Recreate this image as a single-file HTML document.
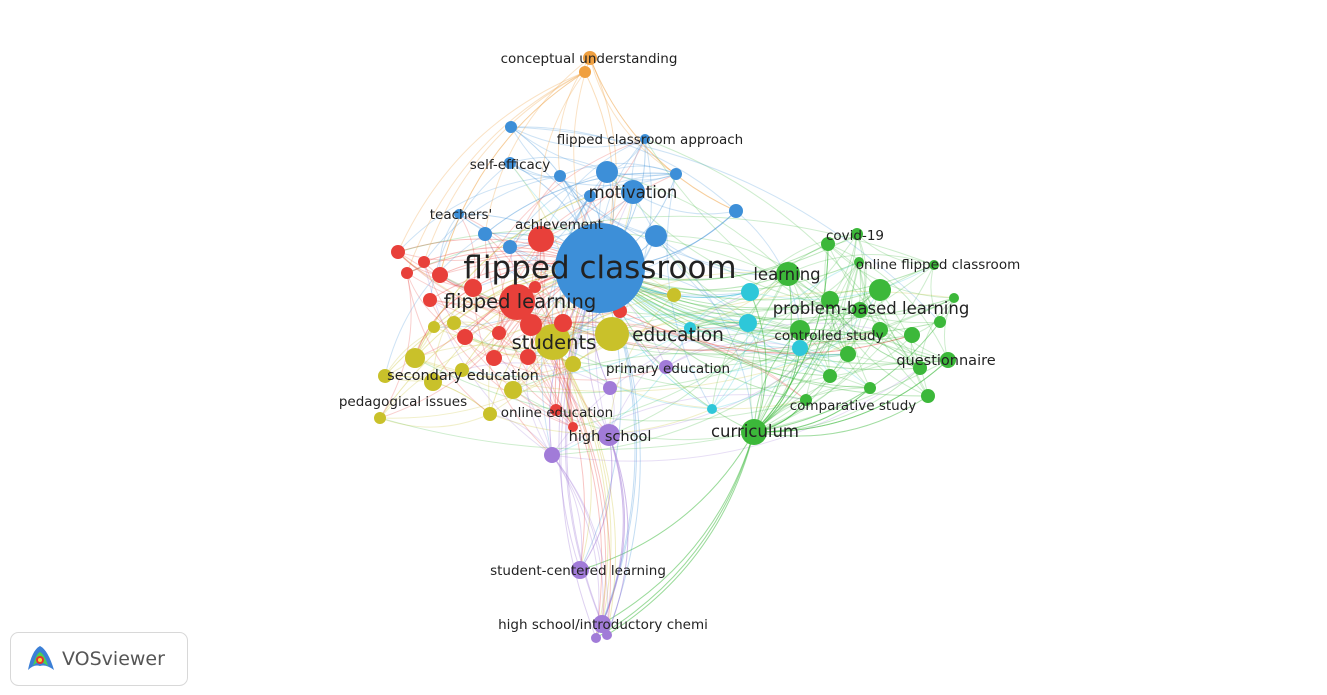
<!DOCTYPE html>
<html><head><meta charset="utf-8"><style>
html,body{margin:0;padding:0;background:#fff;width:1327px;height:695px;overflow:hidden}
svg{display:block}
text{font-family:"DejaVu Sans","Liberation Sans",sans-serif;fill:#222}
</style></head><body>
<svg id="s" width="1327" height="695" viewBox="0 0 1327 695">
<g id="edges" fill="none" stroke-width="1"></g>
<g id="nodes"></g>
<g id="labels">
<text x="589" y="63" font-size="13.5" text-anchor="middle">conceptual understanding</text>
<text x="650" y="144" font-size="13.5" text-anchor="middle">flipped classroom approach</text>
<text x="510" y="169" font-size="13.5" text-anchor="middle">self-efficacy</text>
<text x="633" y="198" font-size="16.5" text-anchor="middle">motivation</text>
<text x="461" y="219" font-size="13.5" text-anchor="middle">teachers'</text>
<text x="559" y="229" font-size="13.5" text-anchor="middle">achievement</text>
<text x="855" y="240" font-size="13.5" text-anchor="middle">covid-19</text>
<text x="600" y="278" font-size="31" text-anchor="middle">flipped classroom</text>
<text x="938" y="269" font-size="13.5" text-anchor="middle">online flipped classroom</text>
<text x="787" y="280" font-size="16.5" text-anchor="middle">learning</text>
<text x="520" y="308" font-size="19.5" text-anchor="middle">flipped learning</text>
<text x="871" y="314" font-size="16.5" text-anchor="middle">problem-based learning</text>
<text x="678" y="341" font-size="18.5" text-anchor="middle">education</text>
<text x="829" y="340" font-size="13.5" text-anchor="middle">controlled study</text>
<text x="554" y="349" font-size="19.5" text-anchor="middle">students</text>
<text x="946" y="365" font-size="14.5" text-anchor="middle">questionnaire</text>
<text x="668" y="373" font-size="13.5" text-anchor="middle">primary education</text>
<text x="463" y="380" font-size="14.5" text-anchor="middle">secondary education</text>
<text x="403" y="406" font-size="13.5" text-anchor="middle">pedagogical issues</text>
<text x="853" y="410" font-size="13.5" text-anchor="middle">comparative study</text>
<text x="557" y="417" font-size="13.5" text-anchor="middle">online education</text>
<text x="755" y="437" font-size="16.5" text-anchor="middle">curriculum</text>
<text x="610" y="441" font-size="14.5" text-anchor="middle">high school</text>
<text x="578" y="575" font-size="13.5" text-anchor="middle">student-centered learning</text>
<text x="603" y="629" font-size="13.5" text-anchor="middle">high school/introductory chemi</text>
</g>
<rect x="10.5" y="632.5" width="177" height="53" rx="8" fill="#fff" stroke="#d8d8d8"/>
<g transform="translate(26,644)">
<path d="M2 26 Q6 6 14 2 Q22 6 28 26 Q20 20 14 22 Q8 20 2 26Z" fill="#3b7fd6"/>
<path d="M7 22 Q10 10 14 8 Q19 11 22 22 Q17 18 14 19 Q10 18 7 22Z" fill="#4ed04e"/>
<circle cx="14" cy="16" r="4" fill="#e83030"/><circle cx="14" cy="16" r="2" fill="#f2e030"/>
</g>
<text x="62" y="665" font-size="19" style="fill:#555">VOSviewer</text>
</svg>
<script>
var C={b:'#3d8fd8',r:'#e8403a',y:'#c9c12a',c:'#2ec7d9',g:'#3cb83a',p:'#a17bd8',o:'#f0a040'};
var N=[
[600,268,45,'b'],[633,192,12,'b'],[607,172,11,'b'],[656,236,11,'b'],[511,127,6,'b'],[645,139,5,'b'],[510,163,6,'b'],[560,176,6,'b'],[676,174,6,'b'],[736,211,7,'b'],[459,214,5,'b'],[485,234,7,'b'],[510,247,7,'b'],[590,196,6,'b'],
[517,302,18,'r'],[541,239,13,'r'],[398,252,7,'r'],[424,262,6,'r'],[407,273,6,'r'],[440,275,8,'r'],[473,288,9,'r'],[430,300,7,'r'],[465,337,8,'r'],[499,333,7,'r'],[531,325,11,'r'],[494,358,8,'r'],[528,357,8,'r'],[563,323,9,'r'],[620,311,7,'r'],[556,410,6,'r'],[573,427,5,'r'],[535,287,6,'r'],
[553,342,18,'y'],[612,334,17,'y'],[674,295,7,'y'],[454,323,7,'y'],[434,327,6,'y'],[415,358,10,'y'],[385,376,7,'y'],[433,382,9,'y'],[513,390,9,'y'],[573,364,8,'y'],[490,414,7,'y'],[380,418,6,'y'],[462,370,7,'y'],
[750,292,9,'c'],[748,323,9,'c'],[800,348,8,'c'],[712,409,5,'c'],[690,328,6,'c'],
[788,274,12,'g'],[754,432,13,'g'],[828,244,7,'g'],[857,234,6,'g'],[880,290,11,'g'],[859,262,5,'g'],[934,265,5,'g'],[954,298,5,'g'],[940,322,6,'g'],[912,335,8,'g'],[948,360,8,'g'],[920,368,7,'g'],[928,396,7,'g'],[848,354,8,'g'],[830,376,7,'g'],[806,400,6,'g'],[860,310,8,'g'],[830,300,9,'g'],[800,330,10,'g'],[880,330,8,'g'],[870,388,6,'g'],
[609,435,11,'p'],[552,455,8,'p'],[610,388,7,'p'],[666,367,7,'p'],[580,570,9,'p'],[602,624,9,'p'],[596,638,5,'p'],[607,635,5,'p'],
[590,58,7,'o'],[585,72,6,'o']];
var seed=7;function rnd(){seed=(seed*16807)%2147483647;return seed/2147483647;}
var e='';
function edge(a,b,col,op){var A=N[a],B=N[b];if(!A||!B)return;var mx=(A[0]+B[0])/2,my=(A[1]+B[1])/2;var dx=B[0]-A[0],dy=B[1]-A[1];var k=0.2;
e+='<path d="M'+A[0]+' '+A[1]+' Q'+(mx-dy*k)+' '+(my+dx*k)+' '+B[0]+' '+B[1]+'" stroke="'+col+'" stroke-opacity="'+op+'"/>';}
for(var i=1;i<N.length;i++){edge(0,i,C[N[i][3]],0.35);}
for(var t=0;t<650;t++){var a=Math.floor(rnd()*75),b=Math.floor(rnd()*75);if(a==b)continue;
var ca=N[a][3],cb=N[b][3];var d=Math.hypot(N[a][0]-N[b][0],N[a][1]-N[b][1]);if(ca!=cb&&rnd()<0.5)continue;if(d>250&&rnd()<0.8)continue;
edge(a,b,C[rnd()<0.5?ca:cb],0.25);}
var pu=[75,76,77,78];var hubs=[0,14,32,51,71,72,51,71];
for(var i=0;i<pu.length;i++)for(var j=0;j<hubs.length;j++)edge(pu[i],hubs[j],C[N[hubs[j]][3]],0.3);
for(var j=0;j<6;j++){edge(79,Math.floor(rnd()*14),C.o,0.3);edge(80,14+Math.floor(rnd()*10),C.o,0.3);}
for(var j=0;j<30;j++)edge(51,45+Math.floor(rnd()*26),C.g,0.3);
document.getElementById('edges').innerHTML=e;
var h='';for(var i=N.length-1;i>=0;i--){var n=N[i];h+='<circle cx="'+n[0]+'" cy="'+n[1]+'" r="'+n[2]+'" fill="'+C[n[3]]+'"/>';}
document.getElementById('nodes').innerHTML=h;
</script>
</body></html>
